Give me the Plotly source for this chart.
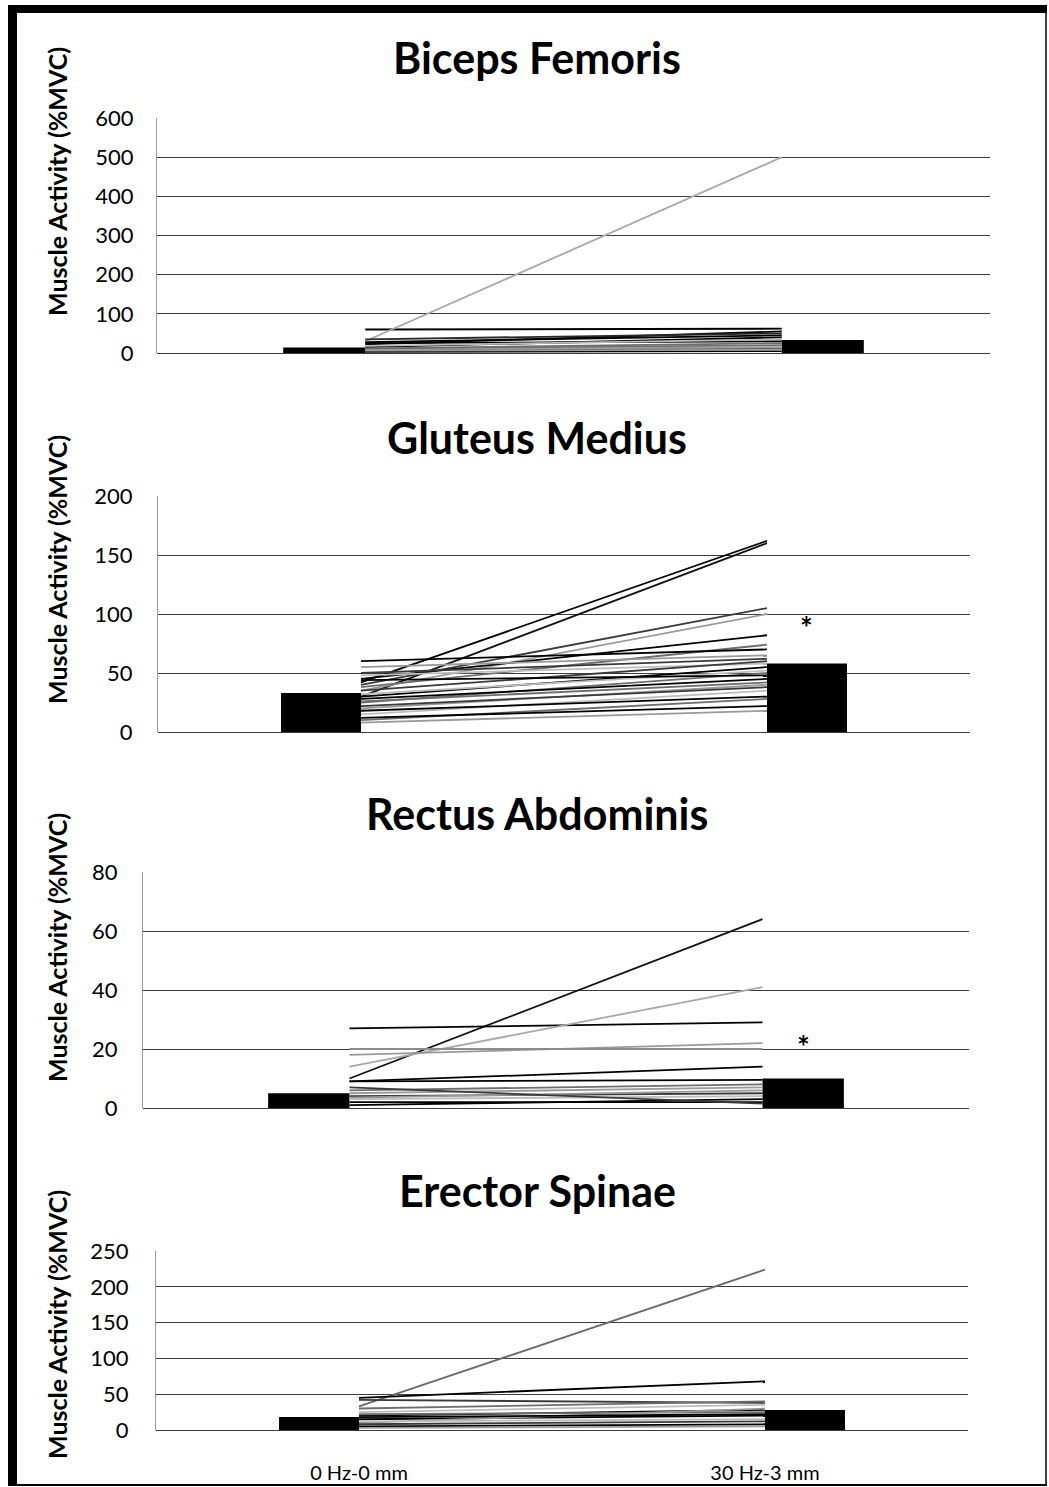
import plotly.graph_objects as go

W, H = 1049, 1487

categories = ["0 Hz-0 mm", "30 Hz-3 mm"]
panel_titles = ["Biceps Femoris", "Gluteus Medius", "Rectus Abdominis", "Erector Spinae"]
y_title = "Muscle Activity (%MVC)"

# group means (bars)
bf_mean = [14, 33]
gm_mean = [33, 58]
ra_mean = [5, 10]
es_mean = [18, 28]

# individual subjects: value at 0 Hz-0 mm and at 30 Hz-3 mm
bf_pre = [60, 30, 22, 35, 15, 10, 25, 8, 5, 18, 3, 12, 28, 6]
bf_post = [62, 500, 55, 50, 40, 20, 30, 15, 10, 35, 5, 25, 45, 8]

gm_pre = [42, 30, 40, 35, 45, 38, 60, 55, 50, 48, 30, 25, 28, 20, 22, 15, 18, 10, 12, 8, 35, 32, 44, 26]
gm_post = [162, 160, 105, 100, 82, 74, 70, 65, 62, 58, 55, 50, 45, 40, 38, 35, 30, 28, 22, 18, 60, 52, 48, 42]

ra_pre = [10, 27, 14, 18, 20, 9, 9, 5, 4, 3, 2, 6, 1, 3.5, 7]
ra_post = [64, 29, 41, 22, 20, 14, 9.5, 7, 5, 4, 2, 8, 3, 6, 1.5]

es_pre = [33, 45, 42, 25, 20, 22, 15, 10, 8, 12, 5, 30, 18, 3]
es_post = [224, 68, 38, 35, 28, 25, 20, 30, 12, 15, 8, 40, 22, 5]

y_ranges = [(0, 600, 100), (0, 200, 50), (0, 80, 20), (0, 250, 50)]
# significance markers: (panel index, height)
stars = [(1, 89), (2, 21)]

# plot-area pixel boxes: left, right, top, bottom
boxes = [(157, 990, 118, 353), (158, 970, 496, 732), (143, 969, 872, 1108), (156, 968, 1251, 1430)]
ytitle_centres = [182, 570, 948, 1325]
title_centres = [57, 437, 813, 1190]
tick_standoffs = [18, 20, 20, 22]
TITLE_X = 537

panels = [
    (bf_mean, bf_pre, bf_post),
    (gm_mean, gm_pre, gm_post),
    (ra_mean, ra_pre, ra_post),
    (es_mean, es_pre, es_post),
]

# line shades: the first few subjects of each panel get their own shade,
# the rest cycle through a mixed grey palette
lead_colours = [
    ["#000000", "#a8a8a8", "#000000", "#2a2a2a"],
    ["#000000", "#111111", "#3a3a3a", "#9a9a9a"],
    ["#111111", "#000000", "#a8a8a8", "#9a9a9a", "#8c8c8c", "#000000"],
    ["#6a6a6a", "#000000"],
]
line_palette = ["#000000", "#9a9a9a", "#3a3a3a", "#bdbdbd", "#000000", "#6e6e6e"]
BAR_W = 0.197
FONT = "Lato"

fig = go.Figure()
layout = {}
annotations = []

for i, (means, pre, post) in enumerate(panels):
    n = i + 1
    xa = "x" if n == 1 else f"x{n}"
    ya = "y" if n == 1 else f"y{n}"
    l, r, t, b = boxes[i]

    # individual subject lines between category centres
    for j, (a, c) in enumerate(zip(pre, post)):
        if j < len(lead_colours[i]):
            col = lead_colours[i][j]
        else:
            col = line_palette[j % len(line_palette)]
        fig.add_trace(go.Scatter(
            x=[0, 1], y=[a, c], mode="lines",
            line=dict(color=col, width=1.8),
            xaxis=xa, yaxis=ya, showlegend=False, hoverinfo="skip"))

    # mean bars: left slot at first category, right slot at second
    fig.add_trace(go.Bar(x=[0], y=[means[0]], width=[BAR_W], offset=-BAR_W,
                         marker=dict(color="#000000", line=dict(width=0)),
                         xaxis=xa, yaxis=ya, showlegend=False))
    fig.add_trace(go.Bar(x=[1], y=[means[1]], width=[BAR_W], offset=0,
                         marker=dict(color="#000000", line=dict(width=0)),
                         xaxis=xa, yaxis=ya, showlegend=False))

    y0, y1, dt = y_ranges[i]
    layout["xaxis" if n == 1 else f"xaxis{n}"] = dict(
        domain=[l / W, r / W], range=[-0.5, 1.5], anchor=ya,
        showgrid=False, zeroline=False, showline=False, automargin=False,
        tickvals=[0, 1] if n == 4 else [], ticktext=categories if n == 4 else [],
        ticks="", ticklabelstandoff=29,
        tickfont=dict(family=FONT, size=20, color="#000"),
    )
    layout["yaxis" if n == 1 else f"yaxis{n}"] = dict(
        domain=[1 - b / H, 1 - t / H], range=[y0, y1], anchor=xa, automargin=False,
        dtick=dt, tick0=0, showgrid=True, gridcolor="#3c3c3c", gridwidth=1,
        zeroline=True, zerolinecolor="#3c3c3c", zerolinewidth=1,
        showline=True, linecolor="#9a9a9a", linewidth=1,
        ticks="", ticklabelstandoff=tick_standoffs[i],
        tickfont=dict(family=FONT, size=22, color="#000"),
    )

    annotations.append(dict(
        text=f"<b>{panel_titles[i]}</b>", xref="paper", yref="paper",
        x=TITLE_X / W, y=1 - title_centres[i] / H,
        xanchor="center", yanchor="middle", showarrow=False,
        font=dict(family=FONT, size=43, color="#000")))
    annotations.append(dict(
        text=f"<b>{y_title}</b>", xref="paper", yref="paper",
        x=57 / W, y=1 - ytitle_centres[i] / H, textangle=-90,
        xanchor="center", yanchor="middle", showarrow=False,
        font=dict(family=FONT, size=25, color="#000")))

for idx, h in stars:
    n = idx + 1
    annotations.append(dict(
        text="<b>*</b>", x=1 + BAR_W / 2, y=h,
        xref=f"x{n}", yref=f"y{n}", showarrow=False,
        xanchor="center", yanchor="middle",
        font=dict(family=FONT, size=30, color="#000")))

# outer frame
shapes = [
    dict(type="rect", xref="paper", yref="paper", x0=8 / W, x1=17 / W,
         y0=1 - 1486 / H, y1=1 - 5 / H, fillcolor="#000", line=dict(width=0)),
    dict(type="rect", xref="paper", yref="paper", x0=8 / W, x1=1047 / W,
         y0=1 - 13 / H, y1=1 - 5 / H, fillcolor="#000", line=dict(width=0)),
    dict(type="line", xref="paper", yref="paper", x0=8 / W, x1=1047 / W,
         y0=1 - 1485 / H, y1=1 - 1485 / H, line=dict(color="#000", width=2)),
    dict(type="line", xref="paper", yref="paper", x0=1046 / W, x1=1046 / W,
         y0=1 - 1485 / H, y1=1 - 9 / H, line=dict(color="#000", width=1.5)),
]

fig.update_layout(
    width=W, height=H, margin=dict(l=0, r=0, t=0, b=0, autoexpand=False),
    paper_bgcolor="white", plot_bgcolor="white",
    barmode="overlay", showlegend=False,
    annotations=annotations, shapes=shapes, **layout)

fig.write_html("out.html")
